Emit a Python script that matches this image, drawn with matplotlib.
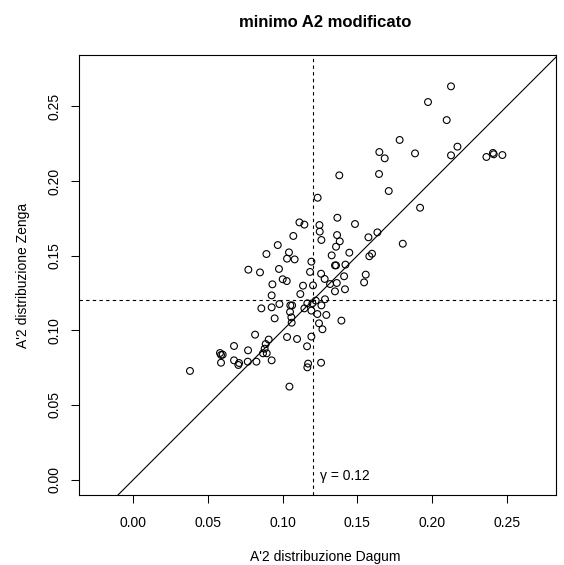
import matplotlib
matplotlib.use("Agg")
import matplotlib.pyplot as plt

plt.rcParams['font.family'] = ['Liberation Sans', 'DejaVu Sans']

# A'2 values: Dagum (x) vs Zenga (y)
dagum = [0.2127, 0.1973, 0.2098, 0.1783, 0.1647, 0.1683, 0.1886, 0.2170, 0.2127, 0.2364,
         0.2408, 0.2413, 0.2471, 0.1379, 0.1645, 0.1710, 0.1234, 0.1920, 0.1366, 0.1112,
         0.1145, 0.1246, 0.1484, 0.1248, 0.1634, 0.1574, 0.1071, 0.1364, 0.1259, 0.1382,
         0.0967, 0.1357, 0.1804, 0.0891, 0.1042, 0.1029, 0.1080, 0.1328, 0.1446, 0.1580,
         0.1598, 0.1192, 0.1350, 0.1357, 0.1420, 0.0770, 0.0848, 0.0975, 0.1183, 0.1257,
         0.1411, 0.1556, 0.1000, 0.1027, 0.1281, 0.1545, 0.0931, 0.1136, 0.1203, 0.1317,
         0.1362, 0.1417, 0.1350, 0.1118, 0.0926, 0.1283, 0.1221, 0.1199, 0.1165, 0.0978,
         0.1051, 0.1063, 0.1259, 0.0857, 0.0926, 0.1145, 0.1049, 0.1192, 0.1232, 0.1292,
         0.1058, 0.0946, 0.1393, 0.1060, 0.1243, 0.1266, 0.0815, 0.1029, 0.1096, 0.1192,
         0.0906, 0.0886, 0.0674, 0.1163, 0.0879, 0.0768, 0.0868, 0.0893, 0.0580, 0.0587,
         0.0598, 0.0674, 0.0926, 0.0708, 0.0703, 0.0766, 0.0824, 0.0587, 0.1170, 0.1165,
         0.1257, 0.0379, 0.1045]
zenga = [0.2634, 0.2529, 0.2408, 0.2275, 0.2194, 0.2152, 0.2185, 0.2230, 0.2172, 0.2161,
         0.2188, 0.2179, 0.2174, 0.2038, 0.2047, 0.1933, 0.1888, 0.1821, 0.1754, 0.1723,
         0.1708, 0.1705, 0.1712, 0.1661, 0.1656, 0.1623, 0.1632, 0.1638, 0.1605, 0.1596,
         0.1571, 0.1560, 0.1580, 0.1511, 0.1522, 0.1480, 0.1475, 0.1502, 0.1520, 0.1496,
         0.1513, 0.1460, 0.1435, 0.1435, 0.1440, 0.1406, 0.1388, 0.1411, 0.1391, 0.1379,
         0.1362, 0.1373, 0.1342, 0.1330, 0.1344, 0.1321, 0.1308, 0.1299, 0.1301, 0.1310,
         0.1317, 0.1275, 0.1261, 0.1243, 0.1234, 0.1208, 0.1199, 0.1181, 0.1181, 0.1176,
         0.1167, 0.1167, 0.1167, 0.1147, 0.1154, 0.1147, 0.1123, 0.1132, 0.1109, 0.1103,
         0.1087, 0.1080, 0.1065, 0.1051, 0.1047, 0.1007, 0.0971, 0.0955, 0.0942, 0.0958,
         0.0938, 0.0908, 0.0895, 0.0893, 0.0877, 0.0866, 0.0846, 0.0846, 0.0848, 0.0835,
         0.0837, 0.0799, 0.0799, 0.0781, 0.0768, 0.0790, 0.0790, 0.0783, 0.0777, 0.0752,
         0.0783, 0.0728, 0.0623]

gamma = 0.12
xticks = [0.00, 0.05, 0.10, 0.15, 0.20, 0.25]
yticks = [0.00, 0.05, 0.10, 0.15, 0.20, 0.25]
xlim = (-0.0364, 0.2830)
ylim = (-0.0105, 0.2844)

FS = 10

fig = plt.figure(figsize=(5.64, 5.65), dpi=100)
ax = fig.add_axes([79/564, 1 - 495.3/565, (556 - 79)/564, (495.3 - 55)/565])

ax.scatter(dagum, zenga, s=24, facecolors='none', edgecolors='black', linewidths=0.8, zorder=3)
ax.axline((0, 0), slope=1, color='black', linewidth=0.8)
ax.axvline(gamma, color='black', linewidth=0.8, linestyle=(0, (3, 3)))
ax.axhline(gamma, color='black', linewidth=0.8, linestyle=(0, (3, 3)))
ax.annotate('γ = 0.12', xy=(gamma, 0), xytext=(5, 2.5), textcoords='offset points',
            ha='left', va='center', fontsize=FS)

ax.set_xlim(*xlim)
ax.set_ylim(*ylim)
ax.set_xticks(xticks)
ax.set_yticks(yticks)
ax.set_xticklabels([f"{t:.2f}" for t in xticks])
ax.set_yticklabels([f"{t:.2f}" for t in yticks], rotation=90, va='center')
ax.tick_params(direction='out', length=5.5, width=0.75, labelsize=FS)
ax.tick_params(axis='x', pad=9.5)
ax.tick_params(axis='y', pad=7)
for sp in ax.spines.values():
    sp.set_linewidth(0.8)

ax.set_xlabel("A'2 distribuzione Dagum", fontsize=FS, labelpad=14.5, x=0.517)
ax.set_ylabel("A'2 distribuzione Zenga", fontsize=FS, labelpad=12.5)
ax.set_title("minimo A2 modificato", fontsize=12, fontweight='bold', pad=20, x=0.517)

fig.savefig("out.png", dpi=100)
